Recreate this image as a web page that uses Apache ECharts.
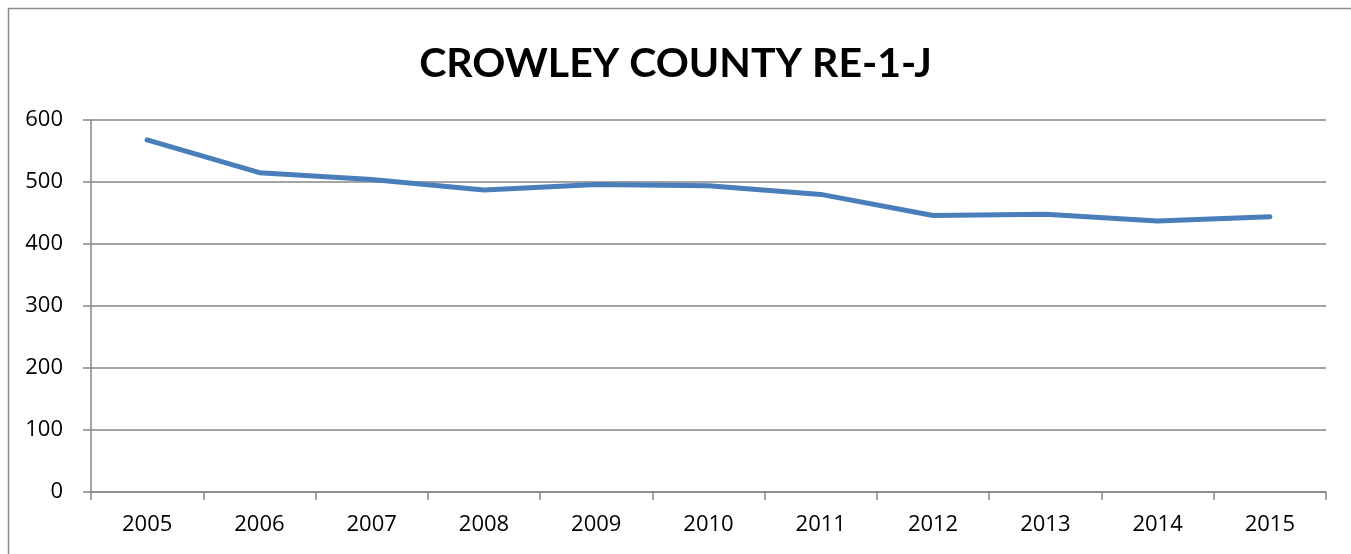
<!DOCTYPE html>
<html>
<head>
<meta charset="utf-8">
<script src="https://cdn.jsdelivr.net/npm/echarts@6/dist/echarts.min.js"></script>
<style>
html,body{margin:0;padding:0;background:#fff;}
#chart{width:1351px;height:554px;}
</style>
</head>
<body>
<div id="chart"></div>
<script>
const titleText = "CROWLEY COUNTY RE-1-J";
const years = ["2005","2006","2007","2008","2009","2010","2011","2012","2013","2014","2015"];
const enrollment = [568, 515, 504, 487, 496, 494, 480, 446, 448, 437, 444];
const yTicks = {min: 0, max: 600, interval: 100};

const chart = echarts.init(document.getElementById('chart'), null, {renderer: 'canvas'});
const axisColor = '#868686';
chart.setOption({
  backgroundColor: '#fff',
  animation: false,
  title: {
    text: titleText,
    left: 'center',
    top: 38,
    textStyle: {fontFamily: 'Lato', fontWeight: 'bold', fontSize: 41, color: '#000'}
  },
  graphic: [
    {type: 'line', shape: {x1: 8, y1: 8.5, x2: 1351, y2: 8.5}, style: {stroke: '#8c8c8c', lineWidth: 1.5}},
    {type: 'line', shape: {x1: 8.5, y1: 8, x2: 8.5, y2: 554}, style: {stroke: '#8c8c8c', lineWidth: 1.5}}
  ],
  grid: {left: 91, right: 25, top: 120, bottom: 62, containLabel: false},
  xAxis: {
    type: 'category',
    data: years,
    boundaryGap: true,
    axisLine: {show: true, lineStyle: {color: axisColor, width: 1.5}},
    axisTick: {show: true, alignWithLabel: false, length: 8, lineStyle: {color: axisColor, width: 1.5}},
    axisLabel: {color: '#000', fontFamily: 'Open Sans', fontSize: 22, margin: 22}
  },
  yAxis: {
    type: 'value',
    min: yTicks.min, max: yTicks.max, interval: yTicks.interval,
    axisLine: {show: true, lineStyle: {color: axisColor, width: 1.5}},
    axisTick: {show: true, length: 8, lineStyle: {color: axisColor, width: 1.5}},
    splitLine: {show: true, lineStyle: {color: axisColor, width: 1.5}},
    axisLabel: {color: '#000', fontFamily: 'Open Sans', fontSize: 22, margin: 28}
  },
  series: [{
    type: 'line',
    data: enrollment,
    showSymbol: false,
    symbol: 'none',
    lineStyle: {color: '#4a7ebb', width: 5, cap: 'round', join: 'round'}
  }]
});
</script>
</body>
</html>
